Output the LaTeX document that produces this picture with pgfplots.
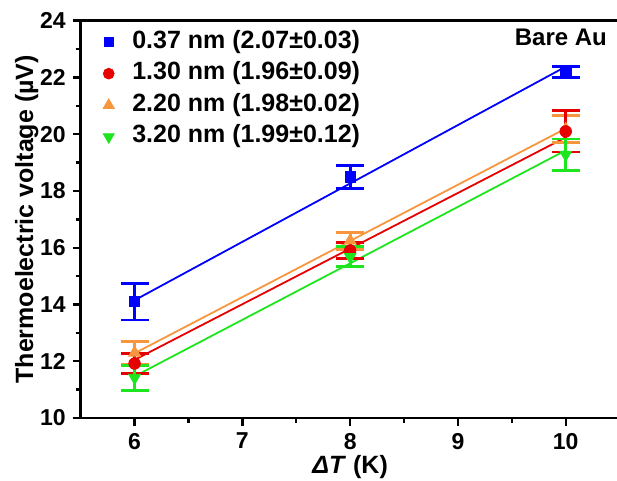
\documentclass[border=0pt]{standalone}
\usepackage{fontspec}
\setmainfont{Liberation Sans}
\usepackage{pgfplots}
\pgfplotsset{compat=1.18}

\definecolor{cblue}{RGB}{0,0,255}
\definecolor{cred}{RGB}{230,0,0}
\definecolor{corange}{RGB}{247,150,60}
\definecolor{cgreen}{RGB}{30,230,30}

\begin{document}
\begin{tikzpicture}
\useasboundingbox (-40.35bp,-31.5bp) rectangle (268.15bp,209bp);
\begin{axis}[
  at={(0,0)}, anchor=south west, scale only axis,
  width=269.45bp, height=198.65bp,
  xmin=5.5, xmax=10.5, ymin=10, ymax=24,
  xtick={6,7,8,9,10}, ytick={10,12,...,24},
  minor x tick num=1, minor y tick num=1,
  tick align=outside, xtick pos=bottom, ytick pos=left,
  major tick length=4bp, minor tick length=2.5bp,
  axis y line*=left,
  axis line style={line width=1.2bp},
  every tick/.style={black, line width=1.2bp},
  /pgf/number format/assume math mode=true,
  tick label style={font=\fontsize{11.5bp}{13bp}\selectfont\bfseries},
  label style={font=\fontsize{12.5bp}{14bp}\selectfont\bfseries},
  xlabel={\textit{ΔT} (K)},
  xlabel style={at={(axis description cs:0.5,0)}, anchor=center, yshift=-24.5bp},
  ylabel={Thermoelectric voltage (µV)},
  ylabel style={at={(axis description cs:-0.1,0.5)}, anchor=center},
  legend style={at={(rel axis cs:0.041,0.985)}, anchor=north west, draw=none, fill=none,
    inner sep=0pt, font=\fontsize{12.5bp}{14bp}\selectfont\bfseries,
    nodes={inner sep=2bp, text height=8.5bp, text depth=2.5bp},
    row sep=0.8bp,
    /tikz/every odd column/.append style={column sep=7bp}},
  legend cell align=left,
  legend image code/.code={\draw[#1] plot coordinates {(0bp,0bp)};},
  error bars/y dir=both, error bars/y explicit,
  error bars/error bar style={line width=1.4bp},
  error bars/error mark options={rotate=90, mark size=7bp, line width=1.4bp},
]
% fit lines
\addplot[cblue, line width=0.9bp, forget plot] coordinates {(6,14.15) (10,22.38)};
\addplot[corange, line width=0.9bp, forget plot] coordinates {(6,12.28) (10,20.2)};
\addplot[cred, line width=0.9bp, forget plot] coordinates {(6,12.05) (10,19.89)};
\addplot[cgreen, line width=0.9bp, forget plot] coordinates {(6,11.47) (10,19.43)};
% data
\addplot[cblue, only marks, mark=square*, mark size=2.6bp, forget plot]
  coordinates {(6,14.1) +- (0,0.65) (8,18.5) +- (0,0.4) (10,22.2) +- (0,0.2)};
\addplot[corange, only marks, mark=triangle*, mark size=3.4bp, forget plot]
  coordinates {(6,12.3) +- (0,0.4) (8,16.25) +- (0,0.3) (10,20.18) +- (0,0.47)};
\addplot[cred, only marks, mark=*, mark size=2.9bp, forget plot]
  coordinates {(6,11.92) +- (0,0.35) (8,15.9) +- (0,0.28) (10,20.1) +- (0,0.73)};
\addplot[cgreen, only marks, mark=triangle*, mark options={rotate=180}, mark size=3.4bp, forget plot]
  coordinates {(6,11.42) +- (0,0.44) (8,15.68) +- (0,0.35) (10,19.28) +- (0,0.55)};
% legend
\addlegendimage{only marks, cblue, mark=square*, mark size=2.3bp}
\addlegendentry{0.37 nm (2.07±0.03)}
\addlegendimage{only marks, cred, mark=*, mark size=2.7bp}
\addlegendentry{1.30 nm (1.96±0.09)}
\addlegendimage{only marks, corange, mark=triangle*, mark size=3.2bp}
\addlegendentry{2.20 nm (1.98±0.02)}
\addlegendimage{only marks, cgreen, mark=triangle*, mark options={rotate=180}, mark size=3.2bp}
\addlegendentry{3.20 nm (1.99±0.12)}
\node[anchor=east, font=\fontsize{12bp}{14bp}\selectfont\bfseries] at (rel axis cs:0.9896,0.9577) {Bare Au};
\end{axis}
\end{tikzpicture}
\end{document}
